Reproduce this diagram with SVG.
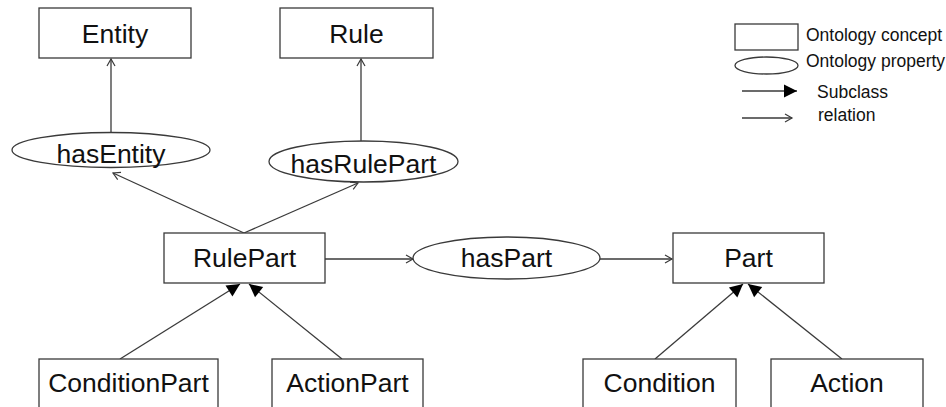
<svg xmlns="http://www.w3.org/2000/svg" width="946" height="407" viewBox="0 0 946 407">
<style>
.box{fill:#fff;stroke:#3a3a3a;stroke-width:1.3}
.ell{fill:#fff;stroke:#3a3a3a;stroke-width:1.3}
.t{font-family:"Liberation Sans",Arial,sans-serif;font-size:26.5px;fill:#111;text-anchor:middle}
.lt{font-family:"Liberation Sans",Arial,sans-serif;font-size:17.5px;fill:#111}
.rel{stroke:#3a3a3a;stroke-width:1.3;fill:none;marker-end:url(#open)}
.sub{stroke:#3a3a3a;stroke-width:1.3;fill:none;marker-end:url(#filled)}
</style>
<defs>
<marker id="open" markerUnits="userSpaceOnUse" markerWidth="10" markerHeight="10" refX="7" refY="4" orient="auto" overflow="visible">
<path d="M0,0 L7,4 L0,8" fill="none" stroke="#3a3a3a" stroke-width="1.2"/>
</marker>
<marker id="filled" markerUnits="userSpaceOnUse" markerWidth="14" markerHeight="14" refX="13" refY="6.5" orient="auto" overflow="visible">
<path d="M0,0 L13,6.5 L0,13 z" fill="#000"/>
</marker>
</defs>
<rect width="946" height="407" fill="#fff"/>
<g id="connectors">
<line class="rel" x1="111" y1="132" x2="111" y2="59"/>
<line class="rel" x1="361" y1="141" x2="361" y2="59"/>
<line class="rel" x1="244" y1="233" x2="113" y2="173"/>
<line class="rel" x1="244" y1="233" x2="358" y2="183"/>
<line class="rel" x1="325" y1="259" x2="413" y2="259"/>
<line class="rel" x1="600" y1="259" x2="672" y2="259"/>
<line class="sub" x1="120" y1="359" x2="240" y2="284"/>
<line class="sub" x1="342" y1="359" x2="249" y2="284"/>
<line class="sub" x1="655" y1="359" x2="743" y2="284"/>
<line class="sub" x1="842" y1="359" x2="748" y2="284"/>
</g>
<g id="entity"><rect class="box" x="39" y="8" width="152" height="50"/><text class="t" x="115" y="43">Entity</text></g>
<g id="rule"><rect class="box" x="280" y="8" width="153" height="50"/><text class="t" x="356.5" y="43">Rule</text></g>
<g id="hasEntity"><ellipse class="ell" cx="111" cy="150" rx="99" ry="17.5"/><text class="t" x="111" y="163">hasEntity</text></g>
<g id="hasRulePart"><ellipse class="ell" cx="363.5" cy="161.5" rx="94.5" ry="20.5"/><text class="t" x="363.5" y="173">hasRulePart</text></g>
<g id="rulePart"><rect class="box" x="164" y="233" width="161" height="50"/><text class="t" x="244.5" y="267">RulePart</text></g>
<g id="hasPart"><ellipse class="ell" cx="506.5" cy="258" rx="93.5" ry="21"/><text class="t" x="506.5" y="267">hasPart</text></g>
<g id="part"><rect class="box" x="673" y="233" width="151" height="50"/><text class="t" x="748.5" y="267">Part</text></g>
<g id="conditionPart"><rect class="box" x="39" y="359" width="179" height="70"/><text class="t" x="128.5" y="392">ConditionPart</text></g>
<g id="actionPart"><rect class="box" x="272" y="359" width="151" height="70"/><text class="t" x="347.5" y="392">ActionPart</text></g>
<g id="condition"><rect class="box" x="583" y="359" width="153" height="70"/><text class="t" x="659.5" y="392">Condition</text></g>
<g id="action"><rect class="box" x="771" y="359" width="152" height="70"/><text class="t" x="847" y="392">Action</text></g>
<g id="legend">
<rect class="box" x="735" y="24" width="63" height="26"/>
<text class="lt" x="806" y="41">Ontology concept</text>
<ellipse class="ell" cx="766.5" cy="65.5" rx="31.5" ry="8.5"/>
<text class="lt" x="806" y="67">Ontology property</text>
<line class="sub" x1="742" y1="91" x2="797" y2="91"/>
<text class="lt" x="817" y="98">Subclass</text>
<line class="rel" x1="742" y1="118" x2="792" y2="118"/>
<text class="lt" x="818" y="121">relation</text>
</g>
</svg>
